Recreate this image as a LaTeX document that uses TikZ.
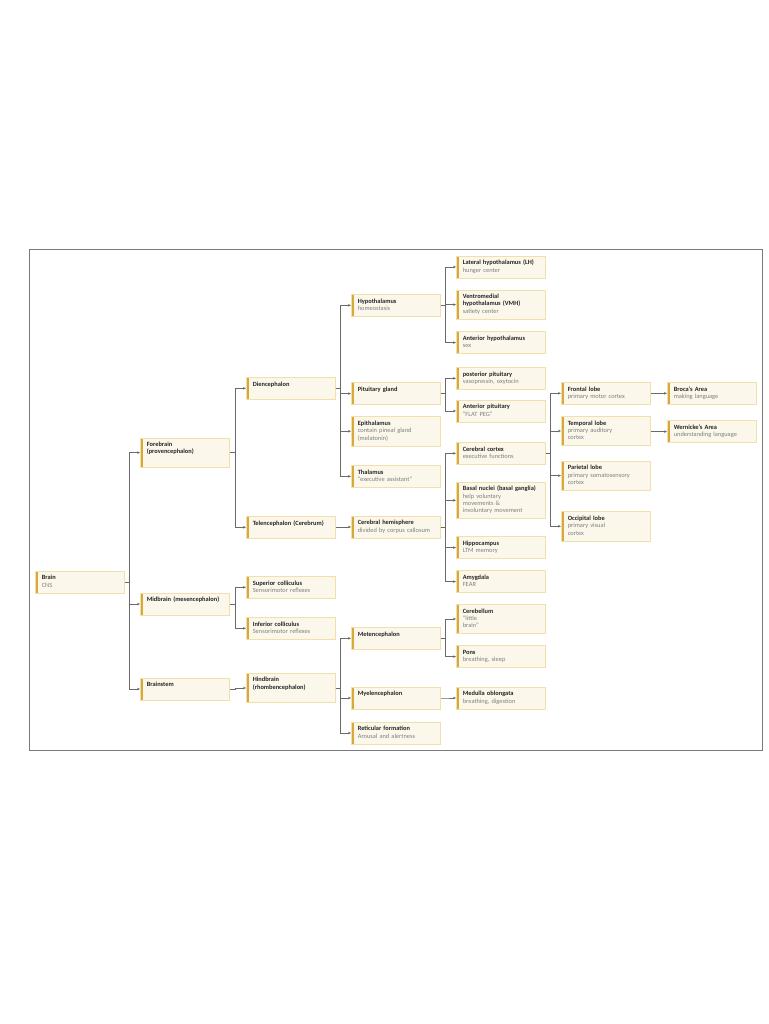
\documentclass[tikz,border=0pt]{standalone}
\usepackage{fontspec}
\setmainfont{Carlito}
\usetikzlibrary{arrows.meta,calc}
\definecolor{boxfill}{HTML}{FBF7EA}
\definecolor{boxline}{HTML}{F2E0AA}
\definecolor{barc}{HTML}{D8A93A}
\definecolor{titlec}{HTML}{262626}
\definecolor{subc}{HTML}{7F7F7F}
\definecolor{connc}{HTML}{6A6A6A}
\definecolor{framec}{HTML}{7A7A7A}
\tikzset{
  box/.style={draw=boxline, line width=0.6pt, fill=boxfill, anchor=north west,
    inner xsep=6.5pt, inner ysep=3.7pt, text width=76pt, align=left,
    font=\fontsize{6.4}{7.3}\selectfont, text=titlec,
    path picture={\fill[barc] (path picture bounding box.north west) rectangle ([xshift=2.8pt]path picture bounding box.south west);}},
  conn/.style={draw=connc, line width=0.7pt, -{Stealth[length=3pt,width=2.6pt]}},
  frameline/.style={draw=framec, line width=1pt}
}
\newcommand\bx[5]{\node[box] (#1) at (#2,#3) {\textbf{#4}\strut\\\color{subc}#5\strut};}
\newcommand\lnk[2]{\draw[conn] (#1.east) -- ($(#1.east -| #2.west)+(-11,0)$) |- (#2.west);}
\begin{document}
\begin{tikzpicture}[x=1pt,y=-1pt]
\useasboundingbox (0,0) rectangle (768,1024);
\draw[frameline] (29.7,249.5) rectangle (762.3,750.3);
% column 1
\bx{brain}{35}{570.7}{Brain}{CNS}
% column 2
\bx{forebrain}{140}{438}{Forebrain\\(provencephalon)}{}
\bx{midbrain}{140}{592.7}{Midbrain (mesencephalon)}{}
\bx{brainstem}{140}{677.7}{Brainstem}{}
% column 3
\bx{dien}{246}{377}{Diencephalon}{}
\bx{telen}{246}{516}{Telencephalon (Cerebrum)}{}
\bx{supcol}{246}{576}{Superior colliculus}{Sensorimotor reflexes}
\bx{infcol}{246}{617}{Inferior colliculus}{Sensorimotor reflexes}
\bx{hind}{246}{673.3}{Hindbrain\\(rhombencephalon)}{}
% column 4
\bx{hypo}{351}{294}{Hypothalamus}{homeostasis}
\bx{pit}{351}{382.3}{Pituitary gland}{}
\bx{epi}{351}{416.3}{Epithalamus}{contain pineal gland\\(melatonin)}
\bx{thal}{351}{465}{Thalamus}{“executive assistant”}
\bx{hemi}{351}{515.7}{Cerebral hemisphere}{divided by corpus callosum}
\bx{meten}{351}{627}{Metencephalon}{}
\bx{myel}{351}{686.7}{Myelencephalon}{}
\bx{retic}{351}{721.7}{Reticular formation}{Arousal and alertness}
% column 5
\bx{lh}{456}{255.7}{Lateral hypothalamus (LH)}{hunger center}
\bx{vmh}{456}{290}{Ventromedial\\hypothalamus (VMH)}{satiety center}
\bx{ah}{456}{331.3}{Anterior hypothalamus}{sex}
\bx{pp}{456}{367}{posterior pituitary}{vasopressin, oxytocin}
\bx{ap}{456}{399.7}{Anterior pituitary}{“FLAT PEG”}
\bx{cc}{456}{442}{Cerebral cortex}{executive functions}
\bx{basal}{456}{481.7}{Basal nuclei (basal ganglia)}{help voluntary\\movements \&\\involuntary movement}
\bx{hippo}{456}{536.3}{Hippocampus}{LTM memory}
\bx{amyg}{456}{570.3}{Amygdala}{FEAR}
\bx{cereb}{456}{604}{Cerebellum}{“little\\brain”}
\bx{pons}{456}{645.3}{Pons}{breathing, sleep}
\bx{medulla}{456}{686.7}{Medulla oblongata}{breathing, digestion}
% column 6
\bx{frontal}{561}{382}{Frontal lobe}{primary motor cortex}
\bx{temporal}{561}{416}{Temporal lobe}{primary auditory\\cortex}
\bx{parietal}{561}{460.7}{Parietal lobe}{primary somatosensory\\cortex}
\bx{occipital}{561}{511.3}{Occipital lobe}{primary visual\\cortex}
% column 7
\bx{broca}{667}{382}{Broca’s Area}{making language}
\bx{wernicke}{667}{420.3}{Wernicke’s Area}{understanding language}
% connectors
\lnk{brain}{forebrain}\lnk{brain}{midbrain}\lnk{brain}{brainstem}
\lnk{forebrain}{dien}\lnk{forebrain}{telen}
\lnk{midbrain}{supcol}\lnk{midbrain}{infcol}
\lnk{brainstem}{hind}
\lnk{dien}{hypo}\lnk{dien}{pit}\lnk{dien}{epi}\lnk{dien}{thal}
\lnk{telen}{hemi}
\lnk{hind}{meten}\lnk{hind}{myel}\lnk{hind}{retic}
\lnk{hypo}{lh}\lnk{hypo}{vmh}\lnk{hypo}{ah}
\lnk{pit}{pp}\lnk{pit}{ap}
\lnk{hemi}{cc}\lnk{hemi}{basal}\lnk{hemi}{hippo}\lnk{hemi}{amyg}
\lnk{meten}{cereb}\lnk{meten}{pons}
\lnk{myel}{medulla}
\lnk{cc}{frontal}\lnk{cc}{temporal}\lnk{cc}{parietal}\lnk{cc}{occipital}
\lnk{frontal}{broca}
\lnk{temporal}{wernicke}
\end{tikzpicture}
\end{document}
